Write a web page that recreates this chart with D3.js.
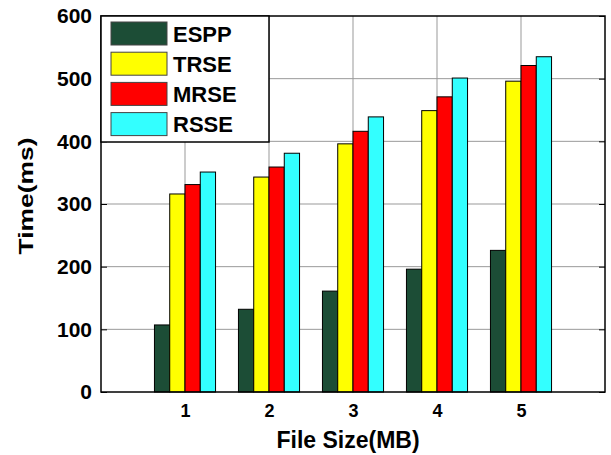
<!DOCTYPE html>
<html>
<head>
<meta charset="utf-8">
<script src="https://cdn.jsdelivr.net/npm/d3@7"></script>
<style>
  body { margin: 0; background: #fff; }
  text { font-family: Arial, "Liberation Sans", sans-serif; font-weight: bold; }
</style>
</head>
<body>
<div id="chart"></div>
<script>
// data
var fileSizes = [1, 2, 3, 4, 5];
var seriesNames = ["ESPP", "TRSE", "MRSE", "RSSE"];
var espp = [107, 132, 161, 196, 226];
var trse = [316, 343, 396, 449, 496];
var mrse = [331, 359, 416, 471, 521];
var rsse = [351, 381, 439, 501, 535];
var yTicks = [0, 100, 200, 300, 400, 500, 600];
var colors = ["#1c4d36", "#ffff00", "#ff0000", "#33ffff"];

var allSeries = [espp, trse, mrse, rsse];

// dimensions
var W = 611, H = 455;
var margin = {top: 16, right: 6, bottom: 63, left: 101},
    width = W - margin.left - margin.right,
    height = H - margin.top - margin.bottom;

var svg = d3.select("#chart")
  .append("svg")
    .attr("width", W)
    .attr("height", H)
  .append("g")
    .attr("transform", "translate(" + margin.left + "," + margin.top + ")");

var x = d3.scaleLinear().domain([0, 6]).range([0, width]);
var y = d3.scaleLinear().domain([0, 600]).range([height, 0]);

// bar slots inside a group (matlab style group width)
var groupW = seriesNames.length / (seriesNames.length + 1.5);
var xs = d3.scaleBand().domain(seriesNames).range([-groupW / 2, groupW / 2]);

// grid
svg.append("g")
  .selectAll("line")
  .data(fileSizes)
  .enter().append("line")
    .attr("x1", function(d) { return x(d); })
    .attr("x2", function(d) { return x(d); })
    .attr("y1", 0).attr("y2", height)
    .attr("stroke", "#999").attr("stroke-width", 1);
svg.append("g")
  .selectAll("line")
  .data(yTicks.slice(1, -1))
  .enter().append("line")
    .attr("x1", 0).attr("x2", width)
    .attr("y1", function(d) { return y(d); })
    .attr("y2", function(d) { return y(d); })
    .attr("stroke", "#999").attr("stroke-width", 1);

// bars
seriesNames.forEach(function(name, j) {
  svg.append("g")
    .selectAll("rect")
    .data(allSeries[j])
    .enter().append("rect")
      .attr("x", function(d, i) { return x(fileSizes[i] + xs(name)); })
      .attr("width", x(xs.bandwidth()) - x(0))
      .attr("y", function(d) { return y(d); })
      .attr("height", function(d) { return height - y(d); })
      .attr("fill", colors[j])
      .attr("stroke", "#000")
      .attr("stroke-width", 1);
});

// axes
var yAxis = svg.append("g")
  .call(d3.axisLeft(y).tickValues(yTicks).tickSize(-6).tickPadding(9));
yAxis.selectAll("text").style("font-size", "21px").attr("fill", "#000");
yAxis.select(".domain").remove();

var yAxisR = svg.append("g")
  .attr("transform", "translate(" + width + ",0)")
  .call(d3.axisRight(y).tickValues(yTicks).tickSize(-6).tickFormat(""));
yAxisR.select(".domain").remove();

var xAxis = svg.append("g")
  .attr("transform", "translate(0," + height + ")")
  .call(d3.axisBottom(x).tickValues(fileSizes).tickFormat(d3.format("d"))
    .tickSize(0).tickPadding(12));
xAxis.selectAll("text").style("font-size", "18px").attr("fill", "#000");
xAxis.select(".domain").remove();

// frame
svg.append("rect")
  .attr("width", width).attr("height", height)
  .attr("fill", "none").attr("stroke", "#000").attr("stroke-width", 1.5);

// axis titles
svg.append("text")
  .attr("x", 247).attr("y", height + 56)
  .attr("text-anchor", "middle")
  .style("font-size", "23px")
  .text("File Size(MB)");

// y title is drawn wider than normal in the reference, so stretch it
var yTitle = svg.append("g")
  .attr("transform", "translate(" + (33 - margin.left) + "," + (196 - margin.top) + ") rotate(-90)");
var yText = yTitle.append("text")
  .attr("text-anchor", "middle")
  .style("font-size", "21px")
  .text("Time(ms)");
var natural = yText.node().getComputedTextLength();
yText.attr("transform", "scale(" + (117 / natural) + ",1)");

// legend
var legend = svg.append("g");
legend.append("rect")
  .attr("x", 0).attr("y", 0)
  .attr("width", 168).attr("height", 126)
  .attr("fill", "#fff").attr("stroke", "#000").attr("stroke-width", 1.5);
var item = legend.selectAll("g.item")
  .data(seriesNames)
  .enter().append("g")
    .attr("transform", function(d, i) { return "translate(10," + (6 + i * 30.2) + ")"; });
item.append("rect")
  .attr("width", 56).attr("height", 23)
  .attr("fill", function(d, i) { return colors[i]; })
  .attr("stroke", "#444").attr("stroke-width", 1);
item.append("text")
  .attr("x", 62).attr("y", 19.5)
  .style("font-size", "22px")
  .text(function(d) { return d; });
</script>
</body>
</html>
